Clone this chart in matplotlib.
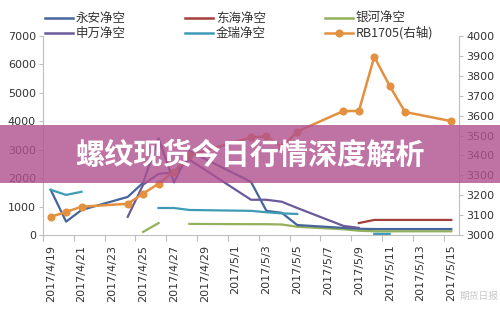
import numpy as np
import pandas as pd
import matplotlib
matplotlib.use('Agg')
import matplotlib.pyplot as plt
from matplotlib.lines import Line2D
from matplotlib.patches import Rectangle

plt.rcParams['font.family'] = ['DejaVu Sans', 'Noto Sans CJK SC']
CJK = ['Noto Sans CJK SC', 'DejaVu Sans']

# ---- data ----
dates = ['2017-04-19', '2017-04-20', '2017-04-21', '2017-04-24', '2017-04-25', '2017-04-26',
         '2017-04-27', '2017-04-28', '2017-05-02', '2017-05-03', '2017-05-04', '2017-05-05',
         '2017-05-08', '2017-05-09', '2017-05-10', '2017-05-11', '2017-05-12', '2017-05-15']
nan = np.nan
yongan = [1590, 470, 880, 1340, 1840, 3400, 1850, 2950, 1870, 850, 780, 350, 250, 220, 210, 210, 210, 210]
donghai = [nan, nan, nan, nan, nan, nan, nan, nan, nan, nan, nan, nan, nan, 420, 530, 530, 530, 530]
yinhe = [nan, nan, nan, nan, 110, 420, nan, 390, 380, 380, 370, 290, 200, 150, 130, 130, 130, 130]
shenwan = [nan, nan, nan, 640, 1770, 2150, 2200, 2650, 1240, 1240, 1170, 950, 320, 250, nan, nan, nan, nan]
jinrui = [1590, 1410, 1520, nan, nan, 950, 950, 880, 850, 800, 760, 740, nan, nan, 40, 40, nan, nan]
rb1705 = [3091, 3116, 3142, 3157, 3208, 3258, 3319, 3400, 3491, 3496, 3440, 3520,
          3623, 3623, 3896, 3749, 3618, 3572]

start = pd.Timestamp('2017-04-19')
end = pd.Timestamp('2017-05-15')
x = np.array([(pd.Timestamp(d) - start).days for d in dates])
ndays = (end - start).days + 1
label_days = pd.date_range(start, end, freq='2D')
xlabels = [f'{d.year}/{d.month}/{d.day}' for d in label_days]

W, H = 500, 310
fig = plt.figure(figsize=(W / 100, H / 100), dpi=100)
ax = fig.add_axes([43 / W, 1 - 235 / H, (459 - 43) / W, (235 - 36) / H])
ax2 = ax.twinx()

c_yongan = '#46659B'
c_donghai = '#A33F3C'
c_yinhe = '#93B05A'
c_shenwan = '#6B5A9A'
c_jinrui = '#3E9BB5'
c_rb = '#E3903F'

lw = 1.6
ax.plot(x, yongan, color=c_yongan, lw=lw, zorder=3)
ax.plot(x, donghai, color=c_donghai, lw=lw, zorder=3)
ax.plot(x, yinhe, color=c_yinhe, lw=lw, zorder=2)
ax.plot(x, shenwan, color=c_shenwan, lw=lw, zorder=3)
ax.plot(x, jinrui, color=c_jinrui, lw=lw, zorder=3)
ax2.plot(x, rb1705, color=c_rb, lw=1.8, marker='o', ms=4.8, zorder=4)

ax.set_xlim(-0.5, ndays - 0.5)
ax.set_ylim(0, 7000)
ax2.set_ylim(3000, 4000)
ax.set_yticks(np.arange(0, 7001, 1000))
ax2.set_yticks(np.arange(3000, 4001, 100))

# tick marks between the day slots, labels at slot centres
ax.set_xticks(np.arange(-0.5, ndays - 0.5, 2))
ax.set_xticklabels([])
ax.set_xticks(np.arange(0, ndays, 2), minor=True)
ax.set_xticklabels(xlabels, minor=True, rotation=90)
ax.tick_params(axis='x', which='major', length=4, color='#BFBFBF', direction='out')
ax.tick_params(axis='x', which='minor', length=0, pad=7, labelsize=8, labelcolor='#333333')
ax.tick_params(axis='y', length=3, color='#BFBFBF', pad=2, labelsize=8, labelcolor='#333333')
ax2.tick_params(axis='y', length=3, color='#BFBFBF', pad=2, labelsize=8, labelcolor='#333333')

for a in (ax, ax2):
    a.spines['top'].set_visible(False)
    for s in ('left', 'right', 'bottom'):
        a.spines[s].set_color('#BFBFBF')
        a.spines[s].set_linewidth(0.8)
ax.spines['right'].set_visible(False)
ax2.spines['left'].set_visible(False)
ax2.spines['bottom'].set_visible(False)

# ---- legend, drawn by hand in three columns ----
legend_items = [
    ('永安净空', c_yongan, 45, 18, False),
    ('东海净空', c_donghai, 185, 18, False),
    ('银河净空', c_yinhe, 325, 18, False),
    ('申万净空', c_shenwan, 45, 33, False),
    ('金瑞净空', c_jinrui, 185, 33, False),
    ('RB1705(右轴)', c_rb, 325, 33, True),
]
for name, col, px, py, mk in legend_items:
    yy = 1 - py / H
    fig.add_artist(Line2D([px / W, (px + 28) / W], [yy, yy], color=col, lw=1.8))
    if mk:
        fig.add_artist(Line2D([(px + 14) / W], [yy], color=col, marker='o', ms=4.8))
    fig.text((px + 31) / W, yy, name, ha='left', va='center', fontsize=9,
             color='#333333', family=CJK)

# ---- banner across the chart ----
fig.add_artist(Rectangle((0, 1 - 183 / H), 1, 58 / H, transform=fig.transFigure,
                         facecolor='#B0508F', alpha=0.8, edgecolor='none', zorder=10))
fig.text(0.5, 1 - 155 / H, '螺纹现货今日行情深度解析', ha='center', va='center',
         fontsize=21, fontweight='bold', color='white', family=CJK, zorder=11)

# faint watermark, kept clear of the last date label
fig.text(479 / W, 1 - 296 / H, '期货日报', ha='center', va='center', fontsize=7,
         color='#C8C8C8', family=CJK, zorder=11)

plt.savefig('out.png', dpi=100)
plt.close()
